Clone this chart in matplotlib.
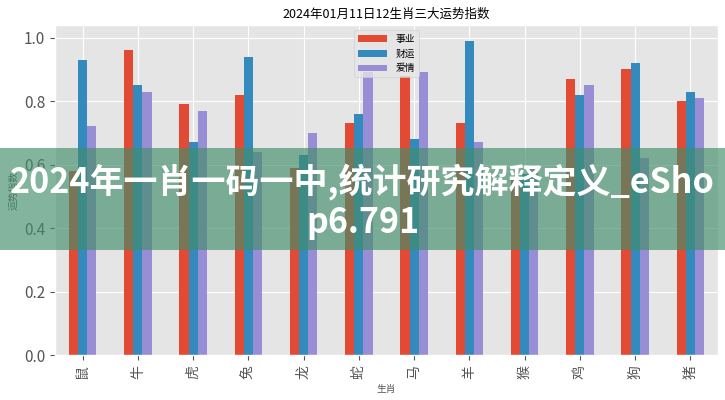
import pandas as pd
import matplotlib.pyplot as plt
from matplotlib.patches import Rectangle

plt.style.use('ggplot')
plt.rcParams['font.family'] = ['Noto Sans CJK SC', 'DejaVu Sans']

zodiac = ['鼠', '牛', '虎', '兔', '龙', '蛇', '马', '羊', '猴', '鸡', '狗', '猪']
career = [0.58, 0.96, 0.79, 0.82, 0.59, 0.73, 0.88, 0.73, 0.55, 0.87, 0.90, 0.80]
wealth = [0.93, 0.85, 0.67, 0.94, 0.63, 0.76, 0.68, 0.99, 0.57, 0.82, 0.92, 0.83]
love = [0.72, 0.83, 0.77, 0.64, 0.70, 0.89, 0.89, 0.67, 0.60, 0.85, 0.62, 0.81]

df = pd.DataFrame({'事业': career, '财运': wealth, '爱情': love}, index=zodiac)

fig = plt.figure(figsize=(7.25, 4), dpi=100)
ax = fig.add_axes([55 / 725, 45 / 400, 663 / 725, 330 / 400])
df.plot(kind='bar', ax=ax)

ax.set_title('2024年01月11日12生肖三大运势指数', fontsize=9, color='black', pad=5)
ax.set_xlabel('生肖', fontsize=7, color='#555555')
ax.set_ylabel('运势指数', fontsize=7, color='#555555')
ax.tick_params(axis='y', labelsize=11)
ax.tick_params(axis='x', labelsize=10, rotation=90)
ax.legend(loc='upper center', fontsize=7, handlelength=3)

# watermark banner across the middle
fig.patches.append(Rectangle((0, 0.375), 1, 0.255, transform=fig.transFigure,
                             facecolor='#438d6a', alpha=0.66, edgecolor='none',
                             zorder=5))
fig.text(0.5, 0.495, '2024年一肖一码一中,统计研究解释定义_eSho\np6.791',
         ha='center', va='center', color='white', fontsize=24.5,
         fontweight='bold', linespacing=1.15, zorder=6)

fig.savefig('out.png', dpi=100)
